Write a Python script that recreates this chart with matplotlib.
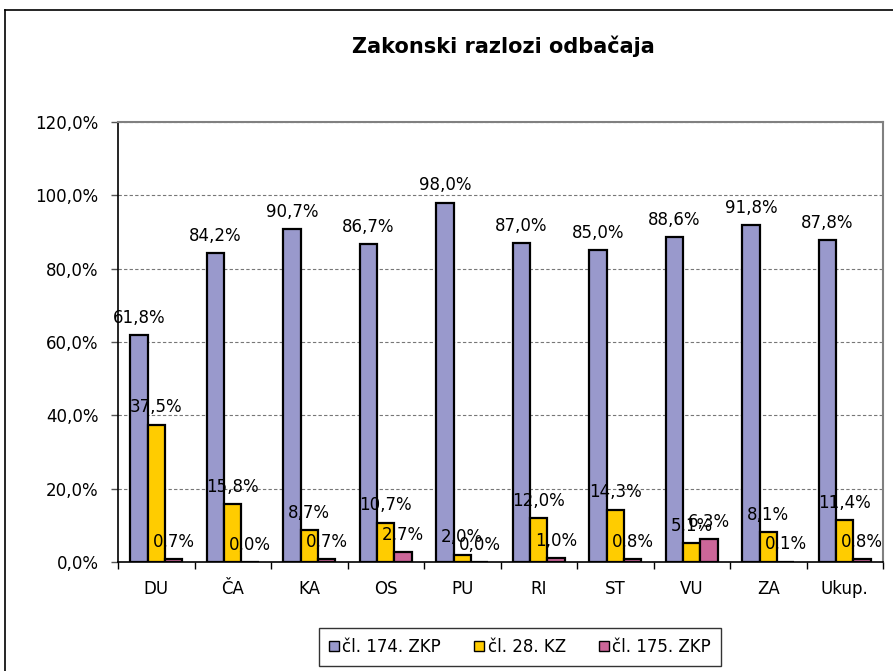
import matplotlib
matplotlib.use("Agg")
import matplotlib.pyplot as plt
import numpy as np
from matplotlib.lines import Line2D
from matplotlib.patches import Patch

plt.rcParams['font.family'] = ['DejaVu Sans']

categories = ["DU", "ČA", "KA", "OS", "PU", "RI", "ST", "VU", "ZA", "Ukup."]
zkp174 = [61.8, 84.2, 90.7, 86.7, 98.0, 87.0, 85.0, 88.6, 91.8, 87.8]
kz28 = [37.5, 15.8, 8.7, 10.7, 2.0, 12.0, 14.3, 5.1, 8.1, 11.4]
zkp175 = [0.7, 0.0, 0.7, 2.7, 0.0, 1.0, 0.8, 6.3, 0.1, 0.8]
series_names = ["čl. 174. ZKP", "čl. 28. KZ", "čl. 175. ZKP"]
colors = ["#9999CC", "#FFCC00", "#CC6699"]
title = "Zakonski razlozi odbačaja"

W, H = 893, 671
fig = plt.figure(figsize=(W / 100, H / 100), dpi=100)
L, R, T, B = 118, 883, 122, 562
ax = fig.add_axes([L / W, 1 - B / H, (R - L) / W, (B - T) / H])

x = np.arange(len(categories))
bw = 0.225
series = [zkp174, kz28, zkp175]
for i, (vals, c) in enumerate(zip(series, colors)):
    pos = x + (i - 1) * bw
    ax.bar(pos, vals, width=bw, color=c, edgecolor="black", linewidth=1.6, zorder=3)
    for p, v in zip(pos, vals):
        ax.annotate(f"{v:.1f}%".replace(".", ","), (p, v), xytext=(0, 6),
                    textcoords="offset points", ha="center", va="bottom",
                    fontsize=12, color="black", zorder=4)

ax.set_xlim(-0.5, len(categories) - 0.5)
ax.set_ylim(0, 120)
yt = np.arange(0, 121, 20)
ax.set_yticks(yt)
ax.set_yticklabels([f"{v:.1f}%".replace(".", ",") for v in yt], fontsize=12)
ax.set_xticks(x)
ax.set_xticklabels(categories, fontsize=12)
ax.set_xticks(np.arange(-0.5, len(categories)), minor=True)
ax.tick_params(axis="x", which="major", length=0, pad=13)
ax.tick_params(axis="x", which="minor", length=5, width=1, color="black", direction="out")
ax.tick_params(axis="y", length=5, width=1, color="#555555", direction="out", pad=9)

ax.yaxis.grid(True, linestyle=(0, (3, 2)), color="#777777", linewidth=0.8, zorder=0)
ax.set_axisbelow(True)
for s in ["top", "right"]:
    ax.spines[s].set_color("#808080")
    ax.spines[s].set_linewidth(1.5)
for s in ["left", "bottom"]:
    ax.spines[s].set_color("black")
    ax.spines[s].set_linewidth(1.2)

fig.text(503 / W, 1 - 46 / H, title, ha="center", va="center", fontsize=15, fontweight="bold")

handles = [Patch(facecolor=c, edgecolor="black", linewidth=1.0) for c in colors]
leg = fig.legend(handles, series_names, loc="center",
                 bbox_to_anchor=(520 / W, 1 - 647 / H), ncol=3, fontsize=12,
                 frameon=True, fancybox=False, handlelength=0.6, handleheight=0.6,
                 handletextpad=0.2, columnspacing=2.0, borderpad=0.6)
leg.get_frame().set_edgecolor("black")
leg.get_frame().set_linewidth(1.0)

# figure border (chart area)
fig.add_artist(Line2D([5 / W, 5 / W], [0, 1 - 10 / H], color="black", linewidth=1.2, transform=fig.transFigure))
fig.add_artist(Line2D([5 / W, 1], [1 - 10 / H, 1 - 10 / H], color="black", linewidth=1.2, transform=fig.transFigure))

fig.savefig("out.png", dpi=100)
